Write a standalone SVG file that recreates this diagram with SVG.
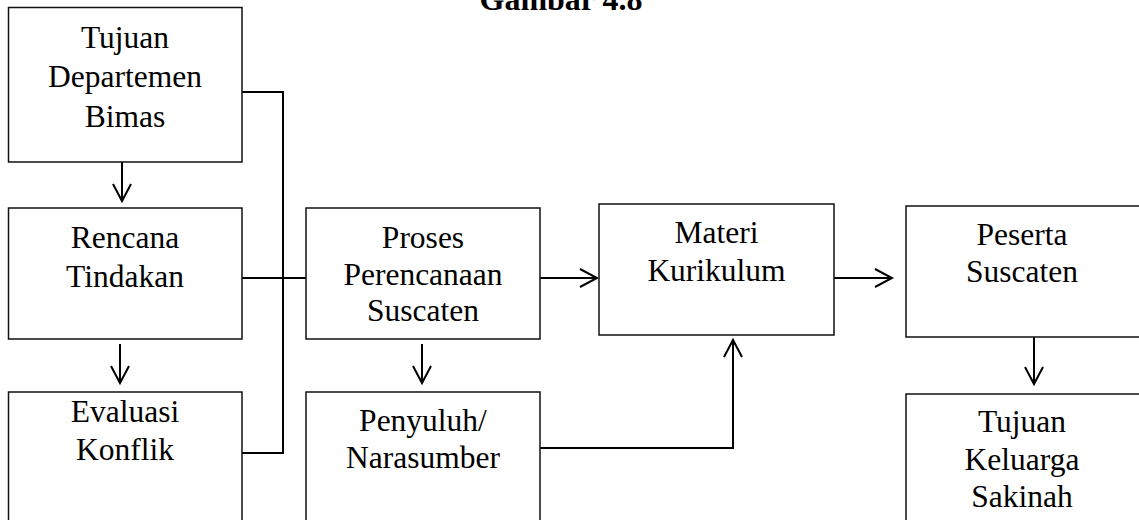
<svg xmlns="http://www.w3.org/2000/svg" width="1139" height="520" viewBox="0 0 1139 520">
<style>
.box{fill:#fff;stroke:#111;stroke-width:1.5}
.t{font-family:"Liberation Serif","Times New Roman",serif;font-size:31.5px;fill:#000;text-anchor:middle}
.title{font-family:"Liberation Serif","Times New Roman",serif;font-size:32px;font-weight:bold;fill:#000;text-anchor:middle}
.c{fill:none;stroke:#000;stroke-width:2}
</style>
<defs>
<marker id="ah" markerUnits="userSpaceOnUse" markerWidth="40" markerHeight="40" viewBox="-20 -20 40 40" refX="0" refY="0" orient="auto">
<path d="M-17,-9 L0,0 L-17,9" fill="none" stroke="#000" stroke-width="2"/>
</marker>
</defs>
<rect width="1139" height="520" fill="#fff"/>
<text class="title" x="561" y="10">Gambar 4.8</text>
<g id="connectors">
<polyline class="c" points="242,92 283,92 283,453 242,453"/>
<line class="c" x1="242" y1="278" x2="306" y2="278"/>
<line class="c" x1="122" y1="162" x2="122" y2="201" marker-end="url(#ah)"/>
<line class="c" x1="120" y1="344" x2="120" y2="383" marker-end="url(#ah)"/>
<line class="c" x1="540" y1="278" x2="597" y2="278" marker-end="url(#ah)"/>
<line class="c" x1="422" y1="344" x2="422" y2="383" marker-end="url(#ah)"/>
<polyline class="c" points="540,448 733,448 733,340" marker-end="url(#ah)"/>
<line class="c" x1="834" y1="278" x2="892" y2="278" marker-end="url(#ah)"/>
<line class="c" x1="1034" y1="337" x2="1034" y2="384" marker-end="url(#ah)"/>
</g>
<g id="n1"><rect class="box" x="8.5" y="7.5" width="233.5" height="154.5"/>
<text class="t" x="125" y="48">Tujuan</text><text class="t" x="125" y="87">Departemen</text><text class="t" x="125" y="127">Bimas</text></g>
<g id="n2"><rect class="box" x="8.5" y="208" width="233.5" height="131"/>
<text class="t" x="125" y="248">Rencana</text><text class="t" x="125" y="287">Tindakan</text></g>
<g id="n3"><rect class="box" x="8.5" y="392" width="233.5" height="140"/>
<text class="t" x="125" y="422">Evaluasi</text><text class="t" x="125" y="460">Konflik</text></g>
<g id="n4"><rect class="box" x="306" y="208" width="234" height="131"/>
<text class="t" x="423" y="248">Proses</text><text class="t" x="423" y="285">Perencanaan</text><text class="t" x="423" y="321">Suscaten</text></g>
<g id="n5"><rect class="box" x="306" y="392" width="234" height="140"/>
<text class="t" x="423" y="431">Penyuluh/</text><text class="t" x="423" y="468">Narasumber</text></g>
<g id="n6"><rect class="box" x="599" y="204" width="235" height="131"/>
<text class="t" x="716.5" y="243">Materi</text><text class="t" x="716.5" y="281">Kurikulum</text></g>
<g id="n7"><rect class="box" x="906" y="206" width="240" height="131"/>
<text class="t" x="1022" y="245">Peserta</text><text class="t" x="1022" y="282">Suscaten</text></g>
<g id="n8"><rect class="box" x="906" y="394" width="240" height="140"/>
<text class="t" x="1022" y="432">Tujuan</text><text class="t" x="1022" y="470">Keluarga</text><text class="t" x="1022" y="507">Sakinah</text></g>
</svg>
